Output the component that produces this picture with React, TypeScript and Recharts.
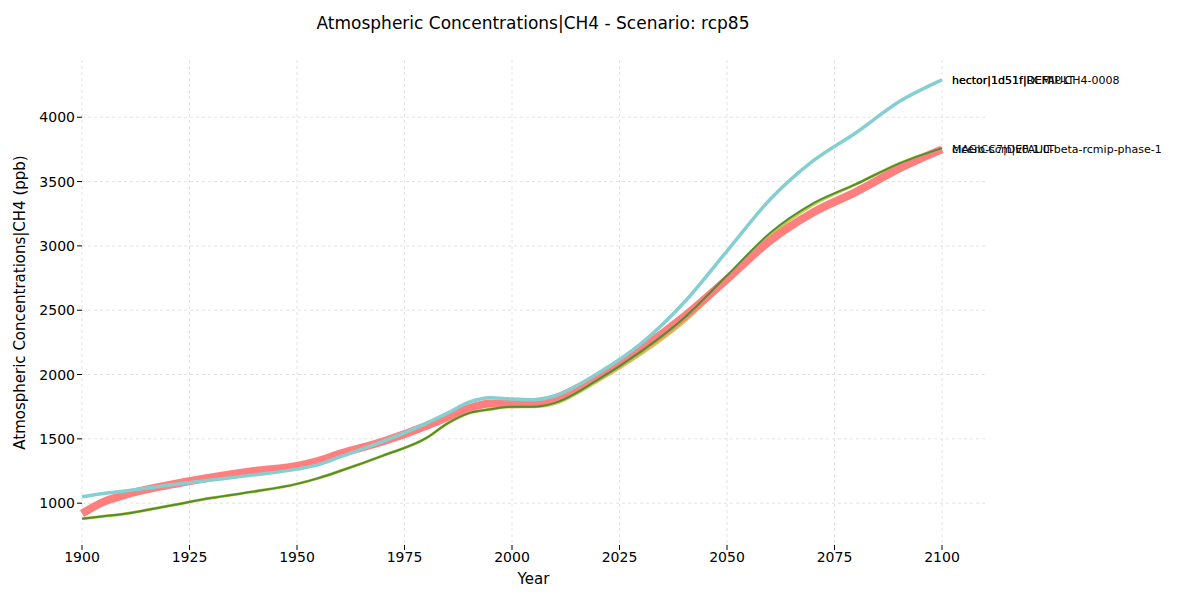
import React from "react";
import { LineChart, Line, CartesianGrid, XAxis, YAxis } from "recharts";

const years = [1900, 1905, 1910, 1920, 1930, 1940, 1950, 1955, 1960, 1970, 1980, 1985, 1990, 1995, 2000, 2005, 2010, 2020, 2030, 2040, 2050, 2060, 2070, 2080, 2090, 2100];
const hector = [1050, 1075, 1095, 1140, 1180, 1220, 1265, 1300, 1360, 1480, 1620, 1700, 1785, 1820, 1810, 1805, 1835, 2010, 2240, 2560, 2960, 3360, 3660, 3880, 4120, 4290];
const magicc = [920, 1010, 1065, 1140, 1200, 1250, 1290, 1330, 1385, 1480, 1600, 1670, 1740, 1775, 1770, 1775, 1815, 1985, 2200, 2450, 2740, 3040, 3260, 3420, 3600, 3750];
const cicero = [880, 898, 918, 978, 1040, 1090, 1150, 1195, 1250, 1370, 1505, 1620, 1700, 1730, 1750, 1750, 1780, 1960, 2180, 2440, 2770, 3100, 3330, 3480, 3640, 3760];
const other = [880, 898, 918, 978, 1040, 1090, 1150, 1195, 1250, 1370, 1505, 1620, 1700, 1730, 1750, 1750, 1775, 1950, 2160, 2410, 2730, 3080, 3320, 3480, 3640, 3760];
const xTicks = [1900, 1925, 1950, 1975, 2000, 2025, 2050, 2075, 2100];
const yTicks = [1000, 1500, 2000, 2500, 3000, 3500, 4000];

const data = years.map((y, i) => ({ year: y, hector: hector[i], magicc: magicc[i], cicero: cicero[i], other: other[i] }));

const endLabel = (names: string[]) => (props: any) => {
  if (props.index !== years.length - 1) return null;
  return (
    <g>
      {names.map((n) => (
        <text key={n} x={props.x + 10} y={props.y + 4} fontSize={11} fill="#000">{n}</text>
      ))}
    </g>
  );
};

export default function App() {
  return (
    <div style={{ margin: -8, fontFamily: "DejaVu Sans" }}>
      <div style={{ position: "relative", width: 1200, height: 600 }}>
        <div style={{ position: "absolute", top: 13, left: 0, width: 1066, textAlign: "center", fontSize: 17 }}>
          Atmospheric Concentrations|CH4 - Scenario: rcp85
        </div>
        <LineChart width={1200} height={600} data={data} margin={{ top: 60, right: 215, bottom: 0, left: 0 }}>
          <CartesianGrid stroke="#e3e3e3" strokeDasharray="3 3" horizontalValues={yTicks} verticalValues={xTicks} />
          <XAxis dataKey="year" type="number" domain={[1900, 2110]} ticks={xTicks} axisLine={false} height={55}
            tick={{ fill: "#000", fontSize: 14 }} tickSize={5} stroke="#000"
            label={{ value: "Year", position: "insideBottom", offset: 16, fill: "#000", fontSize: 15 }} />
          <YAxis type="number" domain={[675, 4445]} ticks={yTicks} axisLine={false} width={82}
            tick={{ fill: "#000", fontSize: 14 }} tickSize={5} stroke="#000"
            label={{ value: "Atmospheric Concentrations|CH4 (ppb)", angle: -90, position: "insideLeft", offset: 20, fill: "#000", fontSize: 15, style: { textAnchor: "middle" } }} />
          <Line dataKey="other" stroke="#c9c94a" strokeWidth={3} dot={false} type="monotone" isAnimationActive={false} />
          <Line dataKey="magicc" stroke="#ff7f7f" strokeWidth={8} dot={false} type="monotone" isAnimationActive={false}
            label={endLabel(["MAGICC7|DEFAULT", "cicero-scm|v0.1.0-beta-rcmip-phase-1"])} />
          <Line dataKey="cicero" stroke="#4f8f2f" strokeWidth={2} dot={false} type="monotone" isAnimationActive={false} />
          <Line dataKey="hector" stroke="#86cfd0" strokeWidth={3.5} dot={false} type="monotone" isAnimationActive={false}
            label={endLabel(["hector|1d51f|DEFAULT", "hector|1d51f|RCMIP-CH4-0008"])} />
        </LineChart>
      </div>
    </div>
  );
}
